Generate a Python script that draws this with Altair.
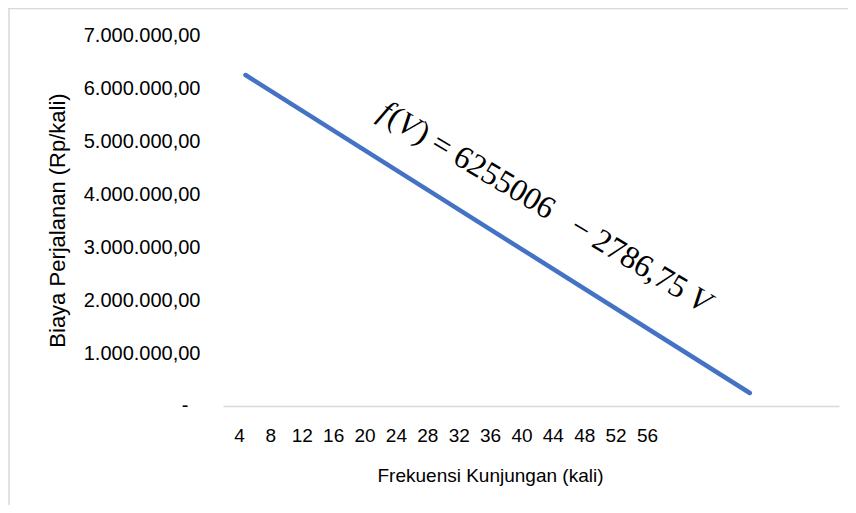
import altair as alt
import pandas as pd

# ---- data ----
visits = [4.83, 69.1]                 # Frekuensi Kunjungan (kali)
cost = [6245000, 245000]              # Biaya Perjalanan (Rp/kali)
x_ticks = [4, 8, 12, 16, 20, 24, 28, 32, 36, 40, 44, 48, 52, 56]
y_ticks = [0, 1000000, 2000000, 3000000, 4000000, 5000000, 6000000, 7000000]
zero_label = ["-"]                    # accounting-style label of the 0 tick

# equation label (anchor in data units), split into italic / upright pieces
eq_x = [43.0]
eq_y = [3755000]
eq_pieces = ["f", "(", "V", ")\u00a0=\u00a06255006\u00a0\u00a0\u00a0\u2212\u00a02786,75\u00a0", "V"]
eq_italic = [True, False, True, False, True]
eq_offsets_em = [0.0, 0.328, 0.661, 1.322, 11.283]
EQ_SIZE = 32
EQ_TOTAL_EM = 11.894

FONT = "Liberation Sans"
X_MIN, X_MAX = 1.96, 80.47

df = pd.DataFrame({"v": visits, "c": cost})
eq = pd.DataFrame({"x": eq_x, "y": eq_y})
zl = pd.DataFrame({"t": zero_label, "x": [X_MIN], "y": [y_ticks[0]]})

xs = alt.Scale(domain=[X_MIN, X_MAX], nice=False, zero=False)
ys = alt.Scale(domain=[0, 7000000], nice=False)

y_label = ("datum.value == 0 ? '' : "
           "replace(replace(replace(format(datum.value, ',.2f'), regexp(',', 'g'), '#'), "
           "regexp('\\\\.', 'g'), ','), regexp('#', 'g'), '.')")

line = alt.Chart(df).mark_line(color="#4472C4", strokeWidth=4.5, strokeCap="round").encode(
    x=alt.X("v:Q", scale=xs, axis=alt.Axis(
        values=x_ticks, title="Frekuensi Kunjungan (kali)", grid=False, ticks=False,
        domainColor="#d9d9d9", domainWidth=1.5, labelFont=FONT, labelFontSize=19,
        labelColor="#000000", labelPadding=29, labelBaseline="middle", labelFlush=False,
        titleFont=FONT, titleFontSize=19, titleFontWeight="normal", titleColor="#000000",
        titleX=267, titleY=69, titleBaseline="middle", titleAlign="center")),
    y=alt.Y("c:Q", scale=ys, axis=alt.Axis(
        values=y_ticks, labelExpr=y_label, title="Biaya Perjalanan (Rp/kali)", grid=False,
        ticks=False, domain=False, labelFont=FONT, labelFontSize=20, labelColor="#000000",
        labelPadding=23, labelBaseline="middle",
        titleFont=FONT, titleFontSize=22, titleFontWeight="normal", titleColor="#000000",
        titleX=-166, titleY=185, titleBaseline="middle", titleAlign="center", titleAngle=270)),
)

zero_text = alt.Chart(zl).mark_text(font=FONT, fontSize=20, dx=-38, align="center",
                                    baseline="middle", color="#000000").encode(
    x=alt.X("x:Q", scale=xs), y=alt.Y("y:Q", scale=ys), text="t:N")

eq_layers = []
for piece, ital, off in zip(eq_pieces, eq_italic, eq_offsets_em):
    dx = (off - EQ_TOTAL_EM / 2) * EQ_SIZE
    eq_layers.append(
        alt.Chart(eq).mark_text(
            text=piece, font="Liberation Serif", fontSize=EQ_SIZE,
            fontStyle="italic" if ital else "normal", angle=31, dx=dx,
            align="left", baseline="middle", color="#000000"
        ).encode(x=alt.X("x:Q", scale=xs), y=alt.Y("y:Q", scale=ys))
    )

border_top = alt.Chart(alt.Data(values=[{}])).mark_rule(color="#d9d9d9", strokeWidth=1.5).encode(
    x=alt.value(-215), x2=alt.value(640), y=alt.value(-26.5))
border_left = alt.Chart(alt.Data(values=[{}])).mark_rule(color="#d9d9d9", strokeWidth=1.5).encode(
    x=alt.value(-214), y=alt.value(-27), y2=alt.value(480))

chart = alt.layer(border_top, border_left, line, zero_text, *eq_layers).properties(
    width=616, height=371,
    padding={"left": 215, "top": 27, "right": 9, "bottom": 99},
    autosize=alt.AutoSizeParams(type="none"),
    background="#ffffff",
).configure_view(stroke=None)

chart.save("out.html", embed_options={"renderer": "svg", "actions": False})
